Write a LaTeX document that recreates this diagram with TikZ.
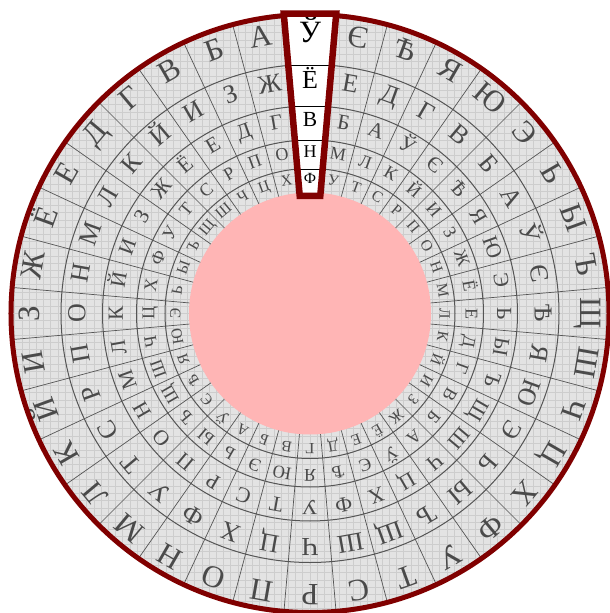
\documentclass[tikz,border=0pt]{standalone}
\usepackage{fontspec}
\setmainfont{Liberation Serif}
\definecolor{rimred}{HTML}{800000}
\definecolor{diskgray}{HTML}{E3E3E3}
\definecolor{gridgray}{HTML}{CDCDCD}
\definecolor{ringline}{HTML}{555555}
\definecolor{lettergray}{HTML}{4A4A4A}
\definecolor{hubpink}{HTML}{FFB5B5}
\tikzset{
  letter/.style={inner sep=0pt,text height=0.66em,text depth=0pt,anchor=center}
}

\begin{document}
\begin{tikzpicture}[x=1pt,y=1pt]
    \useasboundingbox (-310,-299.5) rectangle (300,313.5);
    % Disk with grid paper
    \fill[diskgray] (0,0) circle (299);
    \begin{scope}
      \clip (0,0) circle (299);
      \draw[gridgray,line width=0.6pt,step=7.2] (-310,-310) grid (310,310);
    \end{scope}
    \fill[hubpink] (0,0) circle (121);
    % Rings and sectors
    \foreach \r in {145,173.5,207.5,249}
      \draw[ringline,line width=1pt] (0,0) circle (\r);
    \foreach \a in {0,...,35}
      \draw[ringline,line width=0.7pt] (95-10*\a:121) -- (95-10*\a:299);
    % Letters, one ring after another
    \foreach \ch [count=\j from 0] in {Ў,Є,Ѣ,Я,Ю,Э,Ь,Ы,Ъ,Щ,Ш,Ч,Ц,Х,Ф,У,Т,С,Р,П,О,Н,М,Л,К,Й,И,З,Ж,Ё,Е,Д,Г,В,Б,А}{
      \foreach \s/\rr/\fs [count=\n] in {0/274/31,29/228/26,33/190.5/21.5,21/159/18,14/133/15.5}{
        \node[letter,lettergray,font=\fontsize{\fs}{\fs}\selectfont,rotate={-10*(\j-\s)}]
          (l\n-\j) at ({90-10*(\j-\s)}:\rr) {\ch};
      }
    }
    \draw[rimred,line width=5pt] (0,0) circle (299);
    % Window
    \fill[white] (95:300) -- (85:300) -- (85:118) -- (95:118) -- cycle;
    \foreach \r in {145,173.5,207.5,249}
      \draw[black,line width=0.8pt] (95:\r) -- (85:\r);
    \node[letter,font=\fontsize{31}{31}\selectfont] (w1) at (90:274) {Ў};
    \node[letter,font=\fontsize{26}{26}\selectfont] (w2) at (90:228) {Ё};
    \node[letter,font=\fontsize{21.5}{21.5}\selectfont] (w3) at (90:190.5) {В};
    \node[letter,font=\fontsize{18}{18}\selectfont] (w4) at (90:159) {Н};
    \node[letter,font=\fontsize{15.5}{15.5}\selectfont] (w5) at (90:133) {Ф};
    \draw[rimred,line width=6.5pt] (95:301) -- (85:301) -- (85:118) -- (95:118) -- cycle;
\end{tikzpicture}
\end{document}
